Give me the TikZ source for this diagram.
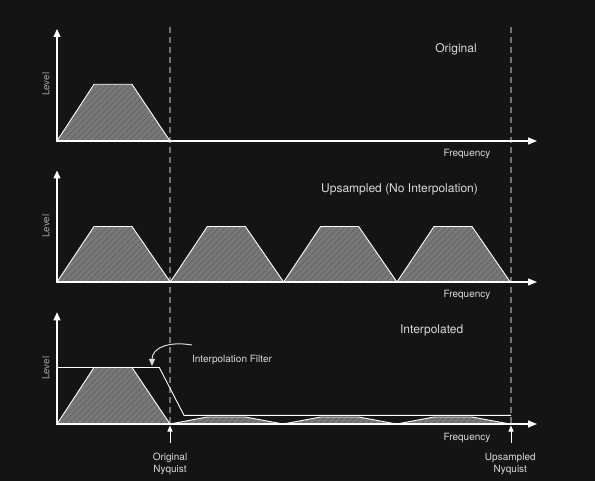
\documentclass[tikz,border=0pt]{standalone}
\usepackage{fontspec}
\setmainfont{TeX Gyre Heros}
\usetikzlibrary{arrows.meta,patterns.meta}
\definecolor{bg}{HTML}{141414}
\definecolor{band}{HTML}{787878}
\definecolor{hatch}{HTML}{636363}
\definecolor{txt}{HTML}{DADADA}
\definecolor{dimtxt}{HTML}{A2A2A2}
\definecolor{guide}{HTML}{747474}
\tikzset{
  axis/.style={draw=white,line width=1.3pt,{Triangle[length=8pt,width=7pt]}-{Triangle[length=9pt,width=7pt]}},
  spectrum/.style={draw=white,line width=0.9pt,line join=round,preaction={fill=band},
    pattern={Lines[angle=45,distance=4pt,line width=1.1pt]},pattern color=hatch},
  nyquist/.style={draw=guide,line width=1.2pt,dash pattern=on 6pt off 4pt},
  filterline/.style={draw=white,line width=0.9pt},
  pointer/.style={draw=txt,line width=1pt,-{Triangle[length=7pt,width=6pt]}},
  nyqarrow/.style={draw=white,line width=1pt,-{Triangle[length=6pt,width=5pt]}},
  title/.style={text=txt,anchor=base,inner sep=0pt,font=\fontsize{12}{14}\selectfont},
  lbl/.style={text=txt,inner sep=0pt,font=\fontsize{10}{12}\selectfont},
  levellbl/.style={text=dimtxt,inner sep=0pt,rotate=90,font=\fontsize{9.75}{12}\selectfont},
}
\begin{document}
\begin{tikzpicture}[x=1pt,y=-1pt]
\fill[bg] (0,0) rectangle (595,481);
% Nyquist guides
\coordinate (g1top) at (170,27);
\coordinate (g1bot) at (170,424);
\coordinate (g2top) at (511,27);
\coordinate (g2bot) at (511,424);
\draw[nyquist] (g1top) -- (g1bot);
\draw[nyquist] (g2top) -- (g2bot);
% Original
\filldraw[spectrum] (57,141) -- (94,84.3) -- (132,84.3) -- (170,141) -- cycle;
\coordinate (o1) at (57,141);
\coordinate (y1) at (57,29);
\coordinate (x1) at (537,141);
\draw[axis] (y1) -- (o1) -- (x1);
\node[title] (orig) at (456,52.5) {Original};
\node[lbl,anchor=base] (freq1) at (467,157) {Frequency};
\node[levellbl] (lev1) at (45.8,84.3) {Level};
% Upsampled (No Interpolation)
\foreach \k in {0,1,2,3}
{\filldraw[spectrum] (57+113.33*\k,282) -- (94+113.33*\k,226.5) -- (132+113.33*\k,226.5) -- (170.3+113.33*\k,282) -- cycle;}
\coordinate (o2) at (57,282);
\coordinate (y2) at (57,170.5);
\coordinate (x2) at (537,282);
\draw[axis] (y2) -- (o2) -- (x2);
\node[title] (upsmp) at (399.5,192.3) {Upsampled (No Interpolation)};
\node[lbl,anchor=base] (freq2) at (467,298) {Frequency};
\node[levellbl] (lev2) at (45.8,226) {Level};
% Interpolated
\filldraw[spectrum] (57,424) -- (94,367.5) -- (132,367.5) -- (170,424) -- cycle;
\foreach \k in {0,1,2}
{\filldraw[spectrum] (170+113.33*\k,424) -- (207.3+113.33*\k,417) -- (245.3+113.33*\k,417) -- (283.3+113.33*\k,424) -- cycle;}
\draw[filterline] (57,367.5) -- (159.3,367.5) -- (184,415.3) -- (511,415.3);
\coordinate (o3) at (57,424);
\coordinate (y3) at (57,312.3);
\coordinate (x3) at (537,424);
\draw[axis] (y3) -- (o3) -- (x3);
\node[title] (interp) at (431.7,333.3) {Interpolated};
\node[lbl,anchor=base] (freq3) at (467,440) {Frequency};
\node[levellbl] (lev3) at (45.8,368.3) {Level};
\node[lbl,anchor=base] (filt) at (232,362.3) {Interpolation Filter};
\coordinate (fstart) at (192,345);
\coordinate (ftip) at (152,366);
\draw[pointer] (fstart) .. controls (168,341) and (152,348) .. (ftip);
% Nyquist labels
\node[lbl,align=center,anchor=north] (orignyq) at (170,452.8) {Original\\Nyquist};
\node[lbl,align=center,anchor=north] (upnyq) at (510.3,452.8) {Upsampled\\Nyquist};
\coordinate (nyq1) at (170,425.5);
\coordinate (nyq2) at (511,425.5);
\draw[nyqarrow,shorten <=9.5pt] (orignyq.north) -- (nyq1);
\draw[nyqarrow,shorten <=9.5pt] (upnyq.north-|nyq2) -- (nyq2);
\end{tikzpicture}
\end{document}
